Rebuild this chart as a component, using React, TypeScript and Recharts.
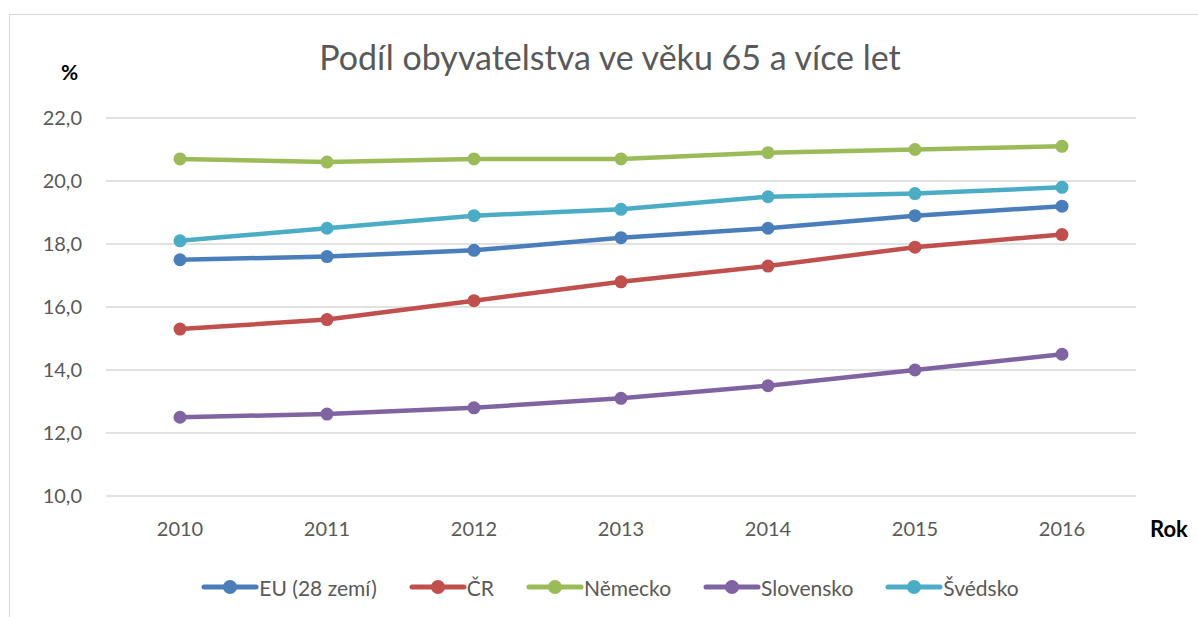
import { LineChart, Line, XAxis, YAxis, CartesianGrid } from "recharts";

// Data (share of population aged 65+, %)
const years = ["2010", "2011", "2012", "2013", "2014", "2015", "2016"];
const eu = [17.5, 17.6, 17.8, 18.2, 18.5, 18.9, 19.2];
const cr = [15.3, 15.6, 16.2, 16.8, 17.3, 17.9, 18.3];
const nemecko = [20.7, 20.6, 20.7, 20.7, 20.9, 21.0, 21.1];
const slovensko = [12.5, 12.6, 12.8, 13.1, 13.5, 14.0, 14.5];
const svedsko = [18.1, 18.5, 18.9, 19.1, 19.5, 19.6, 19.8];
const yTicks = [10, 12, 14, 16, 18, 20, 22];

const series = [
  { key: "eu", name: "EU (28 zemí)", color: "#4a7ebb", values: eu },
  { key: "cr", name: "ČR", color: "#c0504d", values: cr },
  { key: "nemecko", name: "Německo", color: "#9bbb59", values: nemecko },
  { key: "slovensko", name: "Slovensko", color: "#8064a2", values: slovensko },
  { key: "svedsko", name: "Švédsko", color: "#4bacc6", values: svedsko },
];

const data = years.map((year, i) => {
  const row: Record<string, string | number> = { year };
  series.forEach((s) => {
    row[s.key] = s.values[i];
  });
  return row;
});

const FONT = "Lato, 'Open Sans', sans-serif";
const TEXT = "#595959";
const GRID = "#d9d9d9";

const fmt = (v: number) => v.toFixed(1).replace(".", ",");

function LegendRow() {
  return (
    <div
      style={{
        position: "absolute",
        top: 573,
        left: 0,
        width: 1220,
        display: "flex",
        justifyContent: "center",
        gap: 32,
        fontFamily: FONT,
        fontSize: 21,
        color: TEXT,
      }}
    >
      {series.map((s) => (
        <div key={s.key} style={{ display: "flex", alignItems: "center" }}>
          <svg width={58} height={28}>
            <line x1={3} y1={14} x2={55} y2={14} stroke={s.color} strokeWidth={5} strokeLinecap="round" />
            <circle cx={29} cy={14} r={7} fill={s.color} />
          </svg>
          <span>{s.name}</span>
        </div>
      ))}
    </div>
  );
}

export default function App() {
  return (
    <div style={{ position: "absolute", left: 0, top: 0, width: 1198, height: 617, overflow: "hidden", background: "#fff" }}>
      <div
        style={{
          position: "absolute",
          left: 9,
          top: 14,
          width: 1220,
          height: 640,
          border: `1px solid ${GRID}`,
        }}
      />
      <div
        style={{
          position: "absolute",
          top: 36,
          left: 0,
          width: 1220,
          textAlign: "center",
          fontFamily: FONT,
          fontSize: 34,
          color: TEXT,
        }}
      >
        Podíl obyvatelstva ve věku 65 a více let
      </div>
      <div style={{ position: "absolute", left: 61, top: 59, fontFamily: FONT, fontWeight: 700, fontSize: 21, color: "#000" }}>
        %
      </div>
      <div style={{ position: "absolute", left: 1150, top: 515, fontFamily: FONT, fontWeight: 700, fontSize: 22, color: "#000" }}>
        Rok
      </div>
      <div style={{ position: "absolute", left: 0, top: 0 }}>
        <LineChart width={1198} height={617} data={data} margin={{ top: 118, right: 62, left: 46, bottom: 91 }}>
          <CartesianGrid vertical={false} stroke={GRID} strokeWidth={1.5} />
          <XAxis
            dataKey="year"
            axisLine={false}
            tickLine={false}
            tickSize={0}
            tickMargin={26}
            padding={{ left: 74, right: 74 }}
            height={30}
            tick={{ fontSize: 20, fill: TEXT, fontFamily: FONT }}
          />
          <YAxis
            domain={[10, 22]}
            ticks={yTicks}
            axisLine={false}
            tickLine={false}
            tickSize={0}
            tickMargin={24}
            width={60}
            tickFormatter={fmt}
            tick={{ fontSize: 20, fill: TEXT, fontFamily: FONT }}
          />
          {series.map((s) => (
            <Line
              key={s.key}
              type="linear"
              dataKey={s.key}
              name={s.name}
              stroke={s.color}
              strokeWidth={4.5}
              dot={{ r: 6.5, fill: s.color, stroke: s.color, strokeWidth: 0 }}
              isAnimationActive={false}
            />
          ))}
        </LineChart>
      </div>
      <LegendRow />
    </div>
  );
}
